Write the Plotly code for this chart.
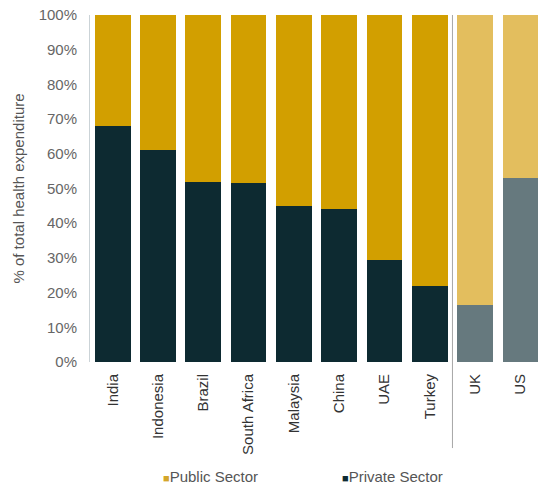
import plotly.graph_objects as go

# Share of total health expenditure by sector (%)
countries = ["India", "Indonesia", "Brazil", "South Africa", "Malaysia",
             "China", "UAE", "Turkey", "UK", "US"]
private_sector = [68, 61, 52, 51.5, 45, 44, 29.5, 22, 16.5, 53]
public_sector = [32, 39, 48, 48.5, 55, 56, 70.5, 78, 83.5, 47]

# Emerging markets in strong colours, developed benchmarks in muted tones
benchmarks = {"UK", "US"}
private_colors = ["#66797E" if c in benchmarks else "#0D2A31" for c in countries]
public_colors = ["#E3BE5E" if c in benchmarks else "#D29F00" for c in countries]

FONT = "Liberation Sans, Arial, sans-serif"

fig = go.Figure()
fig.add_trace(go.Bar(x=countries, y=private_sector, name="Private Sector",
                     marker=dict(color=private_colors, line=dict(width=0)),
                     showlegend=False))
fig.add_trace(go.Bar(x=countries, y=public_sector, name="Public Sector",
                     marker=dict(color=public_colors, line=dict(width=0)),
                     showlegend=False))

# Divider between the emerging markets and the UK/US benchmarks
fig.add_shape(type="line", xref="x", yref="paper",
              x0=7.5, x1=7.5, y0=-0.248, y1=1.0,
              line=dict(color="#A7A7A7", width=1))

# Legend row
legend_items = [("Public Sector", "#D4A62A", 0.158), ("Private Sector", "#0D2A31", 0.556)]
for label, color, xpos in legend_items:
    fig.add_annotation(
        xref="paper", yref="paper", x=xpos, y=-0.329,
        xanchor="left", yanchor="middle", showarrow=False,
        text=f'<span style="color:{color};font-size:11px">■</span>{label}',
        font=dict(family=FONT, size=15, color="#555555"),
    )

fig.update_layout(
    width=539, height=488,
    margin=dict(l=90, r=0, t=15, b=126),
    barmode="stack", bargap=0.21,
    plot_bgcolor="white", paper_bgcolor="white",
    font=dict(family=FONT, size=15, color="#555555"),
)
fig.update_xaxes(
    type="category", range=[-0.5, 9.41],
    tickangle=-90, ticks="", ticklabelstandoff=8,
    tickfont=dict(family=FONT, size=15, color="#333333"),
    showgrid=False, showline=False, zeroline=False,
)
fig.update_yaxes(
    range=[0, 100], dtick=10, ticksuffix="%",
    ticks="", ticklabelstandoff=9,
    tickfont=dict(family=FONT, size=15, color="#666666"),
    showgrid=False, zeroline=False,
    showline=True, linecolor="#CBD3D7", linewidth=1,
    title=dict(text="% of total health expenditure", standoff=10,
               font=dict(family=FONT, size=15, color="#555555")),
)

fig.write_html("out.html")
